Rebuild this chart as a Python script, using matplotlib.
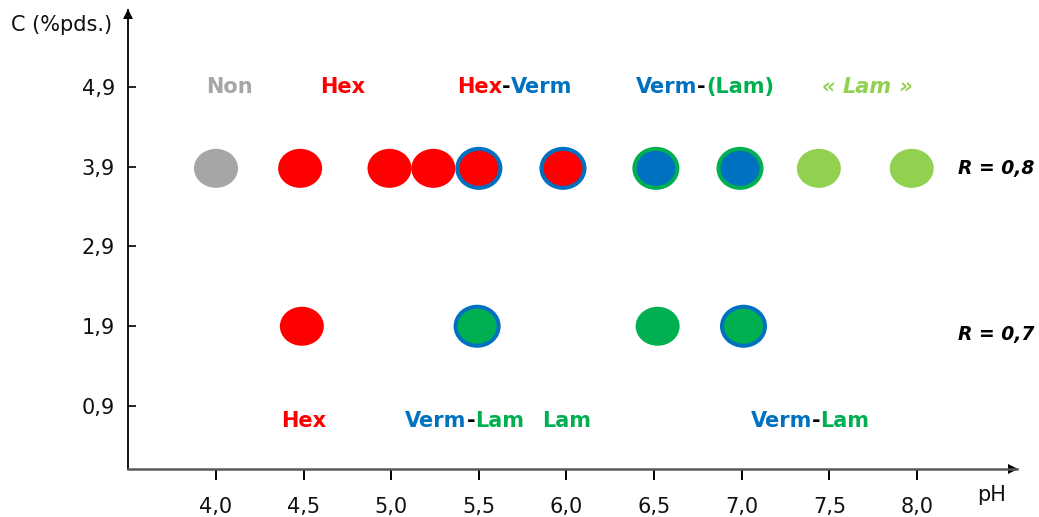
import matplotlib
matplotlib.use("Agg")
import matplotlib.pyplot as plt
import matplotlib.transforms as mtransforms
from matplotlib.patches import Ellipse
from matplotlib.offsetbox import TextArea, HPacker, AnnotationBbox

# ---------------- data ----------------
x_ticks = [4.0, 4.5, 5.0, 5.5, 6.0, 6.5, 7.0, 7.5, 8.0]
x_ticklabels = ["4,0", "4,5", "5,0", "5,5", "6,0", "6,5", "7,0", "7,5", "8,0"]
y_ticks = [0.9, 1.9, 2.9, 3.9, 4.9]
y_ticklabels = ["0,9", "1,9", "2,9", "3,9", "4,9"]

# row R = 0,8 (C = 3,9)
row1_ph = [4.00, 4.48, 4.99, 5.24, 5.50, 5.98, 6.51, 6.99, 7.44, 7.97]
row1_c = [3.88] * 10
row1_face = ["grey", "hex", "hex", "hex", "hex", "hex", "verm", "verm", "lam_l", "lam_l"]
row1_edge = [None, None, None, None, "verm", "verm", "lam", "lam", None, None]

# row R = 0,7 (C = 1,9)
row2_ph = [4.49, 5.49, 6.52, 7.01]
row2_c = [1.90] * 4
row2_face = ["hex", "lam", "lam", "lam"]
row2_edge = [None, "verm", None, "verm"]

colors = {"grey": "#A6A6A6", "hex": "#FF0000", "verm": "#0070C0",
          "lam": "#00B050", "lam_l": "#92D050", "k": "#000000"}

# labels: list of (text, colour key) pieces, position (pH, C)
top_labels = [
    ([("Non", "grey")], 4.074),
    ([("Hex", "hex")], 4.725),
    ([("Hex", "hex"), ("-", "k"), ("Verm", "verm")], 5.703),
    ([("Verm", "verm"), ("-", "k"), ("(Lam)", "lam")], 6.79),
]
top_label_c = 4.9
bottom_labels = [
    ([("Hex", "hex")], 4.50),
    ([("Verm", "verm"), ("-", "k"), ("Lam", "lam")], 5.42),
    ([("Lam", "lam")], 6.00),
    ([("Verm", "verm"), ("-", "k"), ("Lam", "lam")], 7.39),
]
bottom_label_c = 0.71
r_labels = [("R = 0,8", 8.454, 3.88), ("R = 0,7", 8.454, 1.80)]

# ---------------- figure ----------------
W, H = 1039, 517
fig = plt.figure(figsize=(W / 100, H / 100), dpi=100)
ax_left_px, ax_bottom_px, ax_right_px, ax_top_px = 127.5, 469, 1017, 10
ax = fig.add_axes([ax_left_px / W, (H - ax_bottom_px) / H,
                   (ax_right_px - ax_left_px) / W, (ax_bottom_px - ax_top_px) / H])

px_per_ph = (917 - 216) / 4.0
px_per_c = (406 - 87) / 4.0
ax.set_xlim(4.0 - (216 - ax_left_px) / px_per_ph, 8.0 + (ax_right_px - 917) / px_per_ph)
ax.set_ylim(0.9 - (ax_bottom_px - 406) / px_per_c, 4.9 + (87 - ax_top_px) / px_per_c)

for s in ["top", "right"]:
    ax.spines[s].set_visible(False)
ax.spines["left"].set_color("black")
ax.spines["left"].set_linewidth(1.3)
ax.spines["bottom"].set_color("#595959")
ax.spines["bottom"].set_linewidth(1.8)

# arrow heads (tip at the axis ends)
off_x = mtransforms.ScaledTranslation(-4 / 100, 0, fig.dpi_scale_trans)
off_y = mtransforms.ScaledTranslation(0, -4 / 100, fig.dpi_scale_trans)
ax.plot(1, 0, marker=">", color="black", markersize=7, markeredgewidth=0,
        transform=ax.transAxes + off_x, clip_on=False)
ax.plot(0, 1, marker="^", color="black", markersize=7, markeredgewidth=0,
        transform=ax.transAxes + off_y, clip_on=False)

ax.set_xticks(x_ticks)
ax.set_xticklabels(x_ticklabels)
ax.set_xticks(x_ticks, minor=True)
ax.set_yticks(y_ticks)
ax.set_yticklabels(y_ticklabels)
ax.tick_params(axis="x", which="major", direction="out", length=8, width=1.4,
               pad=12, labelsize=15, colors="black")
ax.tick_params(axis="x", which="minor", direction="in", length=5, width=1.4)
ax.tick_params(axis="y", which="major", direction="in", length=6, width=1.2,
               pad=9, labelsize=15)
for lab in ax.get_xticklabels() + ax.get_yticklabels():
    lab.set_color("#111111")

fig.text(62 / W, 1 - 25 / H, "C (%pds.)", ha="center", va="center", fontsize=15, color="#111111")
fig.text(992 / W, 1 - 495 / H, "pH", ha="center", va="center", fontsize=15, color="#111111")

# ---------------- markers ----------------
ew = 44 / px_per_ph
eh = 39 / px_per_c
ew_e = 43 / px_per_ph
eh_e = 39 / px_per_c


def draw_row(phs, cs, faces, edges):
    for x, y, f, e in zip(phs, cs, faces, edges):
        if e is None:
            ax.add_patch(Ellipse((x, y), ew, eh, facecolor=colors[f], edgecolor="none", zorder=3))
        else:
            ax.add_patch(Ellipse((x, y), ew_e, eh_e, facecolor=colors[f],
                                 edgecolor=colors[e], linewidth=2.9, zorder=3))


draw_row(row1_ph, row1_c, row1_face, row1_edge)
draw_row(row2_ph, row2_c, row2_face, row2_edge)


# ---------------- labels ----------------
def multi_label(pieces, x, y, style="normal", size=15):
    areas = [TextArea(t, textprops=dict(color=colors[c], fontsize=size, fontweight="bold",
                                        fontstyle=style)) for t, c in pieces]
    pack = HPacker(children=areas, pad=0, sep=0, align="baseline")
    ab = AnnotationBbox(pack, (x, y), xycoords="data", box_alignment=(0.5, 0.5),
                        frameon=False, pad=0, annotation_clip=False)
    ax.add_artist(ab)


for pieces, x in top_labels:
    multi_label(pieces, x, top_label_c)
multi_label([("« ", "lam_l"), ("Lam", "lam_l"), (" »", "lam_l")], 7.715, top_label_c, style="italic")
for pieces, x in bottom_labels:
    multi_label(pieces, x, bottom_label_c)
for t, x, y in r_labels:
    ax.text(x, y, t, ha="center", va="center", fontsize=13.5, fontweight="bold",
            fontstyle="italic", color="black", clip_on=False)

fig.savefig("out.png", dpi=100)
